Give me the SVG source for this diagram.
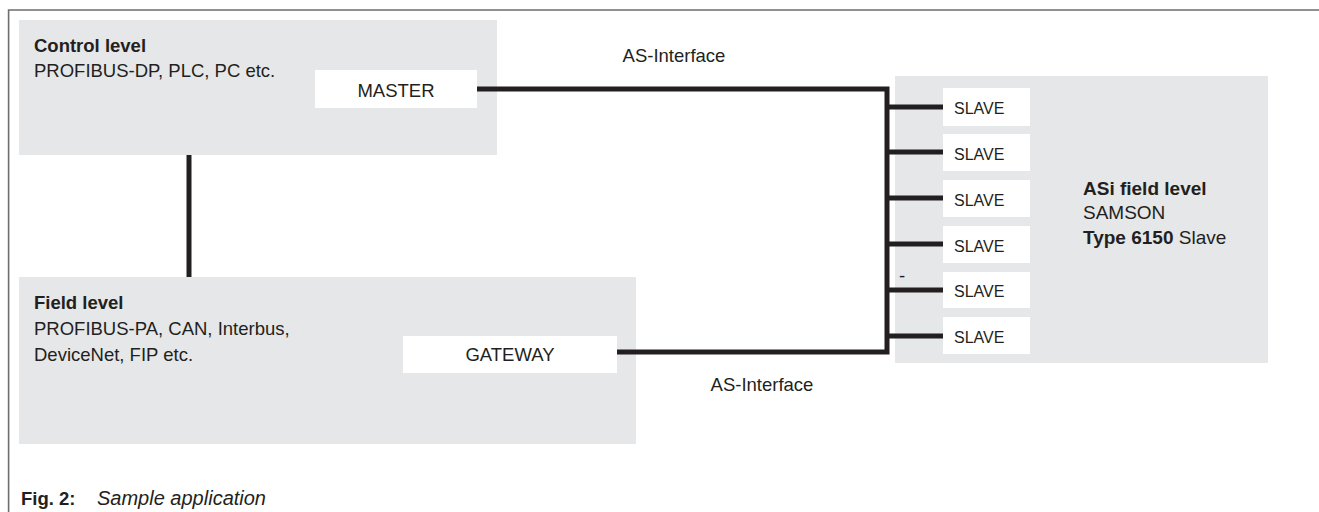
<svg xmlns="http://www.w3.org/2000/svg" width="1319" height="512" viewBox="0 0 1319 512">
<style>
text{font-family:"Liberation Sans",Arial,sans-serif;fill:#231f20}
.area{fill:#e6e7e8}
.box{fill:#ffffff}
.t{font-size:18.5px}
.b{font-weight:bold}
.s{font-size:16px}
.wire{stroke:#231f20;stroke-width:5;fill:none;stroke-linejoin:miter}
.frame{stroke:#6d6e71;stroke-width:1.6;fill:none}
</style>
<path class="frame" d="M1319 10 H8.6 V512"/>

<g id="control-level">
<rect class="area" x="19" y="20" width="478" height="135"/>
<text class="t b" x="34" y="52">Control level</text>
<text class="t" x="34" y="77">PROFIBUS-DP, PLC, PC etc.</text>
</g>
<g id="master">
<rect class="box" x="315" y="70" width="162" height="38"/>
<text class="t" x="396" y="97" text-anchor="middle">MASTER</text>
</g>

<g id="field-level">
<rect class="area" x="19" y="277" width="617" height="167"/>
<text class="t b" x="34" y="309">Field level</text>
<text class="t" x="34" y="335">PROFIBUS-PA, CAN, Interbus,</text>
<text class="t" x="34" y="361">DeviceNet, FIP etc.</text>
</g>
<g id="gateway">
<rect class="box" x="403" y="336" width="214" height="37"/>
<text class="t" x="510" y="361" text-anchor="middle">GATEWAY</text>
</g>

<g id="asi-field-level">
<rect class="area" x="895" y="76" width="373" height="287"/>
<text class="t b" x="1083" y="195" style="font-size:19px">ASi field level</text>
<text class="t" x="1083" y="219" style="font-size:19px">SAMSON</text>
<text class="t" x="1083" y="244" style="font-size:19px"><tspan class="b">Type 6150</tspan> Slave</text>
</g>

<g id="slave-1"><rect class="box" x="943" y="88" width="87" height="38"/><text class="s" x="954" y="114">SLAVE</text></g>
<g id="slave-2"><rect class="box" x="943" y="134" width="87" height="37"/><text class="s" x="954" y="160">SLAVE</text></g>
<g id="slave-3"><rect class="box" x="943" y="180" width="87" height="37"/><text class="s" x="954" y="206">SLAVE</text></g>
<g id="slave-4"><rect class="box" x="943" y="226" width="87" height="37"/><text class="s" x="954" y="252">SLAVE</text></g>
<g id="slave-5"><rect class="box" x="943" y="272" width="87" height="36"/><text class="s" x="954" y="297">SLAVE</text></g>
<g id="slave-6"><rect class="box" x="943" y="317" width="87" height="37"/><text class="s" x="954" y="343">SLAVE</text></g>

<g id="connectors">
<line class="wire" x1="189" y1="155" x2="189" y2="277"/>
<path class="wire" d="M477 89 H887 V352 H617"/>
<line class="wire" x1="887" y1="107" x2="943" y2="107"/>
<line class="wire" x1="887" y1="152" x2="943" y2="152"/>
<line class="wire" x1="887" y1="198" x2="943" y2="198"/>
<line class="wire" x1="887" y1="244" x2="943" y2="244"/>
<line class="wire" x1="887" y1="290" x2="943" y2="290"/>
<line class="wire" x1="887" y1="336" x2="943" y2="336"/>
<text class="t" x="674" y="62" text-anchor="middle">AS-Interface</text>
<text class="t" x="762" y="391" text-anchor="middle">AS-Interface</text>
<text class="t" x="899" y="282">-</text>
</g>

<g id="caption">
<text class="t b" x="21" y="505">Fig. 2:</text>
<text class="t" x="97" y="505" font-style="italic" style="font-size:20px">Sample application</text>
</g>
</svg>
